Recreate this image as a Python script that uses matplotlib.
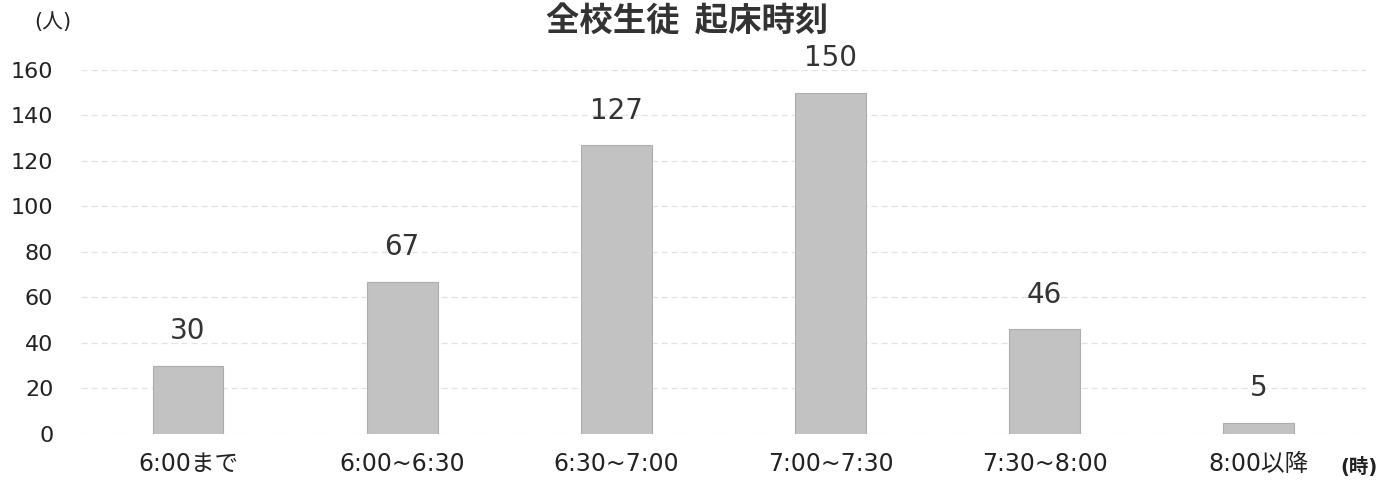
import matplotlib
matplotlib.use('Agg')
import matplotlib.pyplot as plt

plt.rcParams['font.family'] = ['DejaVu Sans', 'Noto Sans CJK JP']

# 起床時刻ごとの人数
categories = ['6:00まで', '6:00~6:30', '6:30~7:00', '7:00~7:30', '7:30~8:00', '8:00以降']
counts = [30, 67, 127, 150, 46, 5]
yticks = [0, 20, 40, 60, 80, 100, 120, 140, 160]

fig = plt.figure(figsize=(13.83, 4.88), dpi=100)
ax = fig.add_axes([0.0586, 0.1107, 0.929, 0.746])

x = range(len(categories))
ax.bar(x, counts, width=0.33, color='#c2c2c2', edgecolor='#adadad', linewidth=0.8, zorder=3)

for xi, v in zip(x, counts):
    ax.text(xi, v + 9, str(v), ha='center', va='bottom', fontsize=20, color='#333333')

ax.set_xlim(-0.5, 5.5)
ax.set_ylim(0, 160)
ax.set_yticks(yticks)
ax.set_yticklabels([str(t) for t in yticks], fontsize=16, color='#222222')
ax.set_xticks(list(x))
ax.set_xticklabels(categories, fontsize=17, color='#222222')
ax.tick_params(axis='both', length=0)
ax.tick_params(axis='y', pad=20)
ax.tick_params(axis='x', pad=13)

ax.grid(axis='y', color='#e2e2e2', linestyle=(0, (5, 3)), linewidth=0.9, zorder=0)
for s in ax.spines.values():
    s.set_visible(False)

fig.text(0.497, 0.956, '全校生徒  起床時刻', ha='center', va='center', fontsize=24,
         fontweight='bold', color='#333333', family=['Noto Sans CJK JP'])
fig.text(0.038, 0.955, '(人)', ha='center', va='center', fontsize=15, color='#222222')
fig.text(0.983, 0.043, '(時)', ha='center', va='center', fontsize=14, fontweight='bold', color='#222222')

fig.savefig('out.png', dpi=100)
